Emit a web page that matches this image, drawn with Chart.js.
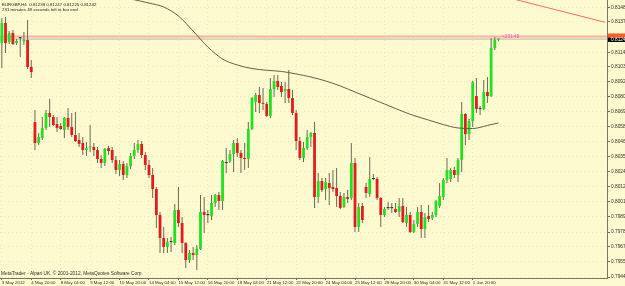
<!DOCTYPE html>
<html>
<head>
<meta charset="utf-8">
<script src="https://cdn.jsdelivr.net/npm/chart.js@4.4.1/dist/chart.umd.min.js"></script>
<style>
html, body { margin: 0; padding: 0; background: #fefacf; overflow: hidden; }
canvas { display: block; }
</style>
</head>
<body>
<canvas id="chart" width="625" height="286"></canvas>
<script>
// EURGBP H4, 3 May - 5 Jun 2012
const symbolTitle = 'EURGBP,H4  0.81239 0.81247 0.81225 0.81242';
const timerTitle = '231 minutes 48 seconds left to bar end';
const copyrightText = 'MetaTrader - Alpari UK, \u00a9 2001-2012, MetaQuotes Software Corp.';
const countdownText = '<231:48';

const openPrices = [
    0.81212, 0.81364, 0.81220, 0.81288, 0.81212, 0.81250, 0.81224, 0.81235, 0.81031, 0.80614,
    0.80455, 0.80493, 0.80569, 0.80682, 0.80652, 0.80599, 0.80584, 0.80554, 0.80645, 0.80576,
    0.80516, 0.80478, 0.80455, 0.80402, 0.80421, 0.80425, 0.80402, 0.80334, 0.80304, 0.80417,
    0.80402, 0.80326, 0.80251, 0.80296, 0.80213, 0.80281, 0.80357, 0.80402, 0.80448, 0.80364,
    0.80289, 0.80213, 0.80107, 0.79910, 0.79736, 0.79668, 0.79706, 0.79698, 0.79948, 0.79849,
    0.79698, 0.79569, 0.79622, 0.79607, 0.79653, 0.79933, 0.79910, 0.79902, 0.80001, 0.80061,
    0.80016, 0.80304, 0.80319, 0.80372, 0.80455, 0.80380, 0.80342, 0.80334, 0.80561, 0.80766,
    0.80819, 0.80758, 0.80751, 0.80660, 0.80864, 0.80925, 0.80887, 0.80849, 0.80864, 0.80796,
    0.80682, 0.80470, 0.80342, 0.80417, 0.80501, 0.80531, 0.80046, 0.80167, 0.80107, 0.80152,
    0.80122, 0.80114, 0.80054, 0.79971, 0.80046, 0.80039, 0.80304, 0.79819, 0.79978, 0.80122,
    0.80069, 0.80183, 0.80183, 0.80039, 0.79910, 0.79963, 0.79963, 0.79955, 0.79933, 0.79978,
    0.79849, 0.79910, 0.79781, 0.79842, 0.79933, 0.79804, 0.79902, 0.79887, 0.79910, 0.79978,
    0.80046, 0.80175, 0.80183, 0.80251, 0.80213, 0.80326, 0.80675, 0.80523, 0.80622, 0.80811,
    0.80713, 0.80713, 0.80841, 0.80811, 0.81175, 0.81239
];
const highPrices = [
    0.81402, 0.81409, 0.81303, 0.81311, 0.81243, 0.81258, 0.81296, 0.81387, 0.81084, 0.80705,
    0.80531, 0.80652, 0.80705, 0.80788, 0.80667, 0.80652, 0.80607, 0.80652, 0.80720, 0.80682,
    0.80690, 0.80531, 0.80501, 0.80463, 0.80592, 0.80455, 0.80425, 0.80364, 0.80417, 0.80432,
    0.80425, 0.80357, 0.80326, 0.80319, 0.80304, 0.80380, 0.80455, 0.80478, 0.80470, 0.80387,
    0.80326, 0.80266, 0.80122, 0.79933, 0.79819, 0.79736, 0.79743, 0.79993, 0.80122, 0.79895,
    0.79706, 0.79645, 0.79668, 0.79683, 0.80061, 0.80046, 0.79948, 0.80061, 0.80069, 0.80084,
    0.80326, 0.80417, 0.80402, 0.80478, 0.80493, 0.80402, 0.80455, 0.80614, 0.80804, 0.80834,
    0.80879, 0.80872, 0.80766, 0.80947, 0.80970, 0.80970, 0.80917, 0.80917, 0.81008, 0.80857,
    0.80705, 0.80501, 0.80463, 0.80554, 0.80538, 0.80614, 0.80228, 0.80190, 0.80190, 0.80228,
    0.80251, 0.80266, 0.80084, 0.80077, 0.80099, 0.80455, 0.80342, 0.80001, 0.80001, 0.80152,
    0.80349, 0.80220, 0.80198, 0.80046, 0.79971, 0.80008, 0.80001, 0.80001, 0.80039, 0.80039,
    0.79971, 0.79933, 0.79872, 0.79971, 0.79986, 0.79925, 0.79986, 0.79933, 0.80024, 0.80152,
    0.80190, 0.80342, 0.80266, 0.80274, 0.80342, 0.80766, 0.80682, 0.80637, 0.80925, 0.80947,
    0.80735, 0.80932, 0.80955, 0.81250, 0.81258, 0.81247
];
const lowPrices = [
    0.81023, 0.81137, 0.81205, 0.81197, 0.81197, 0.81106, 0.81197, 0.81016, 0.80947, 0.80402,
    0.80440, 0.80478, 0.80554, 0.80576, 0.80584, 0.80538, 0.80554, 0.80493, 0.80554, 0.80501,
    0.80463, 0.80425, 0.80364, 0.80357, 0.80387, 0.80357, 0.80304, 0.80266, 0.80281, 0.80364,
    0.80304, 0.80220, 0.80205, 0.80175, 0.80190, 0.80258, 0.80334, 0.80380, 0.80342, 0.80251,
    0.80190, 0.80039, 0.79812, 0.79622, 0.79622, 0.79622, 0.79630, 0.79683, 0.79819, 0.79622,
    0.79509, 0.79547, 0.79569, 0.79494, 0.79645, 0.79774, 0.79849, 0.79872, 0.79971, 0.79948,
    0.79948, 0.80228, 0.80304, 0.80236, 0.80349, 0.80228, 0.80251, 0.80266, 0.80554, 0.80690,
    0.80682, 0.80705, 0.80652, 0.80645, 0.80804, 0.80857, 0.80804, 0.80758, 0.80758, 0.80667,
    0.80402, 0.80326, 0.80311, 0.80402, 0.80425, 0.79963, 0.80001, 0.80084, 0.80024, 0.79986,
    0.80084, 0.79971, 0.79955, 0.79963, 0.80001, 0.80024, 0.79781, 0.79781, 0.79849, 0.80039,
    0.80046, 0.80175, 0.80024, 0.79819, 0.79895, 0.79948, 0.79925, 0.79925, 0.79895, 0.79849,
    0.79819, 0.79774, 0.79774, 0.79819, 0.79736, 0.79736, 0.79857, 0.79872, 0.79895, 0.79963,
    0.80024, 0.80152, 0.80160, 0.80190, 0.80160, 0.80236, 0.80440, 0.80478, 0.80576, 0.80682,
    0.80667, 0.80705, 0.80758, 0.80804, 0.81159, 0.81225
];
const closePrices = [
    0.81364, 0.81212, 0.81288, 0.81205, 0.81228, 0.81249, 0.81235, 0.81031, 0.80993, 0.80455,
    0.80501, 0.80569, 0.80682, 0.80652, 0.80592, 0.80569, 0.80561, 0.80645, 0.80576, 0.80516,
    0.80470, 0.80448, 0.80402, 0.80417, 0.80425, 0.80402, 0.80334, 0.80304, 0.80410, 0.80395,
    0.80326, 0.80251, 0.80296, 0.80213, 0.80281, 0.80357, 0.80402, 0.80448, 0.80364, 0.80289,
    0.80213, 0.80107, 0.79910, 0.79736, 0.79668, 0.79706, 0.79705, 0.79948, 0.79849, 0.79698,
    0.79569, 0.79622, 0.79607, 0.79653, 0.79933, 0.79910, 0.79909, 0.80001, 0.80061, 0.80016,
    0.80319, 0.80303, 0.80372, 0.80455, 0.80380, 0.80342, 0.80334, 0.80561, 0.80796, 0.80819,
    0.80758, 0.80751, 0.80660, 0.80864, 0.80925, 0.80879, 0.80841, 0.80864, 0.80796, 0.80682,
    0.80470, 0.80342, 0.80417, 0.80501, 0.80531, 0.80046, 0.80167, 0.80099, 0.80160, 0.80114,
    0.80107, 0.80054, 0.79963, 0.80046, 0.80031, 0.80304, 0.79819, 0.79971, 0.79872, 0.80077,
    0.80183, 0.80182, 0.80039, 0.79910, 0.79955, 0.79962, 0.79962, 0.79933, 0.79978, 0.79857,
    0.79910, 0.79781, 0.79842, 0.79933, 0.79804, 0.79895, 0.79880, 0.79910, 0.80016, 0.80054,
    0.80175, 0.80251, 0.80251, 0.80213, 0.80326, 0.80675, 0.80523, 0.80622, 0.80917, 0.80713,
    0.80712, 0.80841, 0.80811, 0.81175, 0.81235, 0.81242
];

// moving average at a few bars
const maBars = [35, 40, 44, 48, 52, 56, 60, 64, 68, 72, 76, 80, 84, 88, 92, 96, 100, 104, 108, 112, 116, 120, 124, 128, 132, 135];
const maValues = [
    0.81546, 0.81515, 0.81485, 0.81417, 0.81303, 0.81182, 0.81091, 0.81046, 0.81019, 0.81006,
    0.80997, 0.80978, 0.80955, 0.80925, 0.80887, 0.80841, 0.80796, 0.80751, 0.80705, 0.80663,
    0.80629, 0.80595, 0.80569, 0.80565, 0.80588, 0.80607
];

// red trendline in the top right corner
const trendBars = [139, 164];
const trendValues = [0.81546, 0.81369];

const xTickBars = [0, 8, 16, 24, 32, 40, 48, 56, 64, 72, 80, 88, 96, 104, 112, 120, 128];
const xTickLabels = [
    '3 May 2012', '4 May 20:00', '8 May 04:00', '9 May 12:00', '10 May 20:00', '14 May 04:00',
    '15 May 12:00', '16 May 20:00', '18 May 04:00', '21 May 12:00', '22 May 20:00', '24 May 04:00',
    '25 May 12:00', '28 May 20:00', '30 May 04:00', '31 May 12:00', '1 Jun 20:00'
];
const yTickLabels = [
    '0.81480', '0.81375', '0.81255', '0.81140', '0.81035', '0.80920', '0.80805', '0.80690', '0.80580', '0.80465',
    '0.80350', '0.80240', '0.80125', '0.80010', '0.79895', '0.79780', '0.79670', '0.79555', '0.79440'
];

const bidPrice = 0.81242;
const askPrice = 0.81262;
const yMin = 0.79433;
const yMax = 0.81538;
const slotCount = 165; // bars + empty shift area on the right

const slots = Array.from({ length: slotCount }, (_, i) => String(i));
const wickData = highPrices.map((h, i) => [lowPrices[i], h]);
const bodyData = openPrices.map((o, i) => [Math.min(o, closePrices[i]), Math.max(o, closePrices[i])]);

const maSeries = new Array(slotCount).fill(null);
maBars.forEach((b, k) => { maSeries[b] = maValues[k]; });
const trendSeries = new Array(slotCount).fill(null);
trendBars.forEach((b, k) => { trendSeries[b] = trendValues[k]; });

function candleColor(i) {
    const d = closePrices[i] - openPrices[i];
    if (Math.abs(d) < 0.000015) return '#2a2a1c';
    return d > 0 ? '#22e022' : '#e11c1c';
}

const FONT = 'Liberation Sans';

const chartDecor = {
    id: 'chartDecor',
    beforeDraw(chart) {
        const ctx = chart.ctx;
        ctx.save();
        ctx.fillStyle = '#fefacf';
        ctx.fillRect(0, 0, chart.width, chart.height);
        ctx.restore();
    },
    beforeDatasetsDraw(chart) {
        const { ctx, chartArea: a, scales: { y } } = chart;
        const askY = y.getPixelForValue(askPrice);
        const bidY = y.getPixelForValue(bidPrice);
        ctx.save();
        ctx.strokeStyle = '#f6b2a2';
        ctx.lineWidth = 2;
        ctx.beginPath();
        ctx.moveTo(a.left, askY);
        ctx.lineTo(a.right, askY);
        ctx.stroke();
        ctx.strokeStyle = '#b9b5a2';
        ctx.lineWidth = 1;
        ctx.beginPath();
        ctx.moveTo(a.left, bidY);
        ctx.lineTo(a.right, bidY);
        ctx.stroke();
        ctx.restore();
    },
    afterDraw(chart) {
        const { ctx, chartArea: a, scales: { x, y } } = chart;
        const askY = y.getPixelForValue(askPrice);
        const bidY = y.getPixelForValue(bidPrice);
        ctx.save();
        // price labels on the right axis
        ctx.fillStyle = '#ff5a22';
        ctx.fillRect(a.right + 1, askY - 3, 20, bidY - askY + 1.6);
        ctx.fillStyle = '#000000';
        ctx.fillRect(a.right + 1, bidY - 1.4, 20, 4.3);
        ctx.fillStyle = '#ffffff';
        ctx.font = '4.8px "' + FONT + '"';
        ctx.textBaseline = 'middle';
        ctx.textAlign = 'left';
        ctx.fillText(bidPrice.toFixed(5), a.right + 4, bidY + 0.7);

        // bar countdown next to the last candle
        ctx.fillStyle = '#ff4fc6';
        ctx.fillText(countdownText, x.getPixelForValue(openPrices.length - 1) + 3.5, askY);

        // header and footer texts
        ctx.fillStyle = '#1c1c1c';
        ctx.font = '4.4px "' + FONT + '"';
        ctx.fillText(symbolTitle, 2, 5);
        ctx.fillText(timerTitle, 2, 9.6);
        ctx.fillStyle = '#2e2e2e';
        ctx.font = '4.8px "' + FONT + '"';
        ctx.fillText(copyrightText, 1, a.bottom - 4.5);
        ctx.restore();
    }
};

new Chart(document.getElementById('chart'), {
    type: 'bar',
    data: {
        labels: slots,
        datasets: [
            {
                type: 'line',
                data: maSeries,
                borderColor: '#625f4c',
                borderWidth: 1,
                pointRadius: 0,
                spanGaps: true,
                cubicInterpolationMode: 'monotone',
                order: 0,
            },
            {
                type: 'line',
                data: trendSeries,
                borderColor: '#f06e5e',
                borderWidth: 1,
                pointRadius: 0,
                spanGaps: true,
                tension: 0,
                order: 0,
            },
            {
                data: bodyData,
                backgroundColor: (c) => candleColor(c.dataIndex),
                barThickness: 2.8,
                minBarLength: 1,
                inflateAmount: 0,
                grouped: false,
                order: 1,
            },
            {
                data: wickData,
                backgroundColor: '#6b6852',
                barThickness: 1,
                inflateAmount: 0,
                grouped: false,
                order: 2,
            },
        ],
    },
    options: {
        responsive: false,
        animation: false,
        events: [],
        layout: { padding: 0, autoPadding: false },
        plugins: { legend: { display: false }, tooltip: { enabled: false } },
        scales: {
            x: {
                type: 'category',
                offset: true,
                grid: { offset: false, color: 'rgba(150,140,80,0.16)', tickColor: '#6f6b58', tickLength: 2 },
                border: { display: true, color: '#7a7560', width: 1, dash: [1, 3] },
                ticks: {
                    autoSkip: false,
                    maxRotation: 0,
                    minRotation: 0,
                    align: 'start',
                    padding: 0,
                    color: '#2e2e2e',
                    font: { family: FONT, size: 4.4 },
                    callback: (v, i) => xTickLabels[i],
                },
                afterBuildTicks: (scale) => {
                    scale.ticks = xTickBars.map((b) => ({ value: b }));
                },
                afterFit: (scale) => {
                    scale.height = 8;
                    scale.paddingLeft = 0;
                    scale.paddingRight = 0;
                },
            },
            y: {
                position: 'right',
                min: yMin,
                max: yMax,
                bounds: 'data',
                grid: { color: 'rgba(150,140,80,0.16)', tickColor: '#6f6b58', tickLength: 3 },
                border: { display: true, color: '#7a7560', width: 1, dash: [1, 3] },
                ticks: {
                    padding: 1,
                    color: '#2e2e2e',
                    font: { family: FONT, size: 4.8 },
                    callback: (v) => v.toFixed(5),
                },
                afterBuildTicks: (scale) => {
                    scale.ticks = yTickLabels.map((t) => ({ value: parseFloat(t) }));
                },
                afterFit: (scale) => {
                    scale.width = 18;
                    scale.paddingTop = 0;
                    scale.paddingBottom = 0;
                },
            },
        },
    },
    plugins: [chartDecor],
});
</script>
</body>
</html>
